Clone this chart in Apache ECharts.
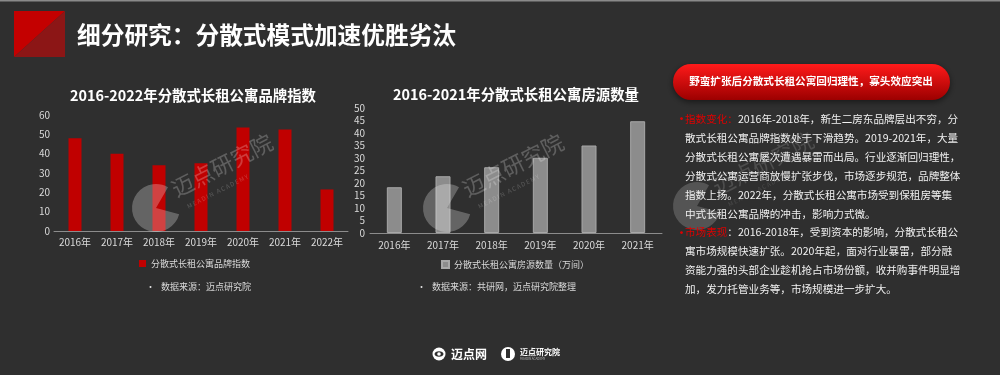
<!DOCTYPE html>
<html lang="zh-CN">
<head>
<meta charset="UTF-8">
<title>细分研究：分散式模式加速优胜劣汰</title>
<script src="https://cdn.jsdelivr.net/npm/echarts@6/dist/echarts.min.js"></script>
<style>
    body {margin: 0; background: #2f2f2f;}
    #main {width: 1000px; height: 375px;}
</style>
</head>
<body>
<div id="main"></div>
<script type="text/javascript">
    // data
    var years_a = ['2016年', '2017年', '2018年', '2019年', '2020年', '2021年', '2022年'];
    var brand_index = [48, 40, 34, 35, 53.5, 52.5, 21.5];
    var years_b = ['2016年', '2017年', '2018年', '2019年', '2020年', '2021年'];
    var room_count = [18.3, 22.7, 26.3, 30.1, 35, 44.7];

    var name_a = '分散式长租公寓品牌指数';
    var name_b = '分散式长租公寓房源数量（万间）';

    var text_lines = [
        ['指数变化：', '2016年-2018年，新生二房东品牌层出不穷，分'],
        ['', '散式长租公寓品牌指数处于下滑趋势。2019-2021年，大量'],
        ['', '分散式长租公寓屡次遭遇暴雷而出局。行业逐渐回归理性，'],
        ['', '分散式公寓运营商放慢扩张步伐，市场逐步规范，品牌整体'],
        ['', '指数上扬。2022年，分散式长租公寓市场受到保租房等集'],
        ['', '中式长租公寓品牌的冲击，影响力式微。'],
        ['市场表现', '：2016-2018年，受到资本的影响，分散式长租公'],
        ['', '寓市场规模快速扩张。2020年起，面对行业暴雷，部分融'],
        ['', '资能力强的头部企业趁机抢占市场份额，收并购事件明显增'],
        ['', '加，发力托管业务等，市场规模进一步扩大。']
    ];

    var font = '"Noto Sans CJK SC", "Microsoft YaHei", sans-serif';
    var red = '#c00000';
    var grey_bar = '#8c8c8c';
    var label_color = '#d9d9d9';

    // faint "迈点研究院" watermark
    function watermark(cx, cy, alpha) {
        return [
            {
                type: 'sector', z: 100, silent: true,
                shape: {cx: cx, cy: cy, r: 24, r0: 0, startAngle: Math.PI / 12, endAngle: Math.PI * 5 / 3, clockwise: true},
                style: {fill: 'rgba(255,255,255,' + alpha + ')'}
            },
            {
                type: 'text', z: 100, silent: true, x: cx + 22, y: cy - 8, rotation: 0.47,
                style: {text: '迈点研究院', fill: 'rgba(255,255,255,' + (alpha - 0.03) + ')', font: '22px ' + font, verticalAlign: 'bottom'}
            },
            {
                type: 'text', z: 100, silent: true, x: cx + 30, y: cy - 4, rotation: 0.47,
                style: {text: 'M E A D I N   A C A D E M Y', fill: 'rgba(255,255,255,' + (alpha - 0.06) + ')', font: '6px ' + font}
            }
        ];
    }

    var graphics = [
        // top border line
        {type: 'rect', shape: {x: 0, y: 0, width: 1000, height: 1.5}, style: {fill: '#8a8a8a'}},
        // red square of the title
        {type: 'polygon', shape: {points: [[14, 11], [65, 11], [14, 57]]}, style: {fill: '#c40000'}},
        {type: 'polygon', shape: {points: [[65, 11], [65, 57], [14, 57]]}, style: {fill: '#8c1616'}},
        {type: 'text', x: 77, y: 35, style: {text: '细分研究：分散式模式加速优胜劣汰', fill: '#ffffff', font: 'bold 23.7px ' + font, verticalAlign: 'middle'}},
        // chart titles
        {type: 'text', x: 193, y: 96, style: {text: '2016-2022年分散式长租公寓品牌指数', fill: '#ffffff', font: 'bold 14.4px ' + font, align: 'center', verticalAlign: 'middle'}},
        {type: 'text', x: 516, y: 95, style: {text: '2016-2021年分散式长租公寓房源数量', fill: '#ffffff', font: 'bold 14.4px ' + font, align: 'center', verticalAlign: 'middle'}},
        // sources
        {type: 'text', x: 146, y: 287, style: {text: '•   数据来源：迈点研究院', fill: label_color, font: '9px ' + font, verticalAlign: 'middle'}},
        {type: 'text', x: 417, y: 287, style: {text: '•   数据来源：共研网，迈点研究院整理', fill: label_color, font: '9px ' + font, verticalAlign: 'middle'}},
        // red pill
        {
            type: 'rect', shape: {x: 673, y: 64, width: 277, height: 36, r: 18},
            style: {
                fill: {type: 'linear', x: 0, y: 0, x2: 0, y2: 1, colorStops: [{offset: 0, color: '#ff1a1a'}, {offset: 1, color: '#9c0000'}]},
                shadowBlur: 6, shadowColor: 'rgba(0,0,0,0.5)', shadowOffsetY: 2
            }
        },
        {type: 'text', x: 811, y: 81, style: {text: '野蛮扩张后分散式长租公寓回归理性，寡头效应突出', fill: '#ffffff', font: 'bold 10.6px ' + font, align: 'center', verticalAlign: 'middle'}}
    ];

    graphics = graphics.concat(watermark(156, 208, 0.26), watermark(447, 208, 0.26), watermark(697, 206, 0.18));

    text_lines.forEach(function (ln, i) {
        var y = 119 + i * 18.9;
        if (ln[0]) {
            graphics.push({type: 'text', x: 676, y: y, z: 110, style: {text: '·', fill: '#e00000', font: 'bold 11px ' + font, verticalAlign: 'middle'}});
        }
        graphics.push({
            type: 'text', x: 685, y: y, z: 110,
            style: {
                text: (ln[0] ? '{r|' + ln[0] + '}' : '') + ln[1],
                fill: '#f0f0f0', font: '10.6px ' + font, verticalAlign: 'middle',
                rich: {r: {fill: '#e00000', font: '10.6px ' + font}}
            }
        });
    });

    // bottom logos
    graphics.push(
        {type: 'circle', shape: {cx: 439, cy: 354, r: 6.5}, style: {fill: '#ffffff'}},
        {type: 'ellipse', shape: {cx: 439, cy: 354, rx: 4.5, ry: 2.8}, style: {fill: '#2f2f2f'}},
        {type: 'circle', shape: {cx: 439, cy: 354, r: 1.8}, style: {fill: '#ffffff'}},
        {type: 'text', x: 451, y: 354, style: {text: '迈点网', fill: '#ffffff', font: 'bold 12px ' + font, verticalAlign: 'middle'}},
        {type: 'circle', shape: {cx: 508, cy: 354, r: 7}, style: {fill: '#ffffff'}},
        {type: 'rect', shape: {x: 506, y: 349, width: 4, height: 9}, style: {fill: '#2f2f2f'}},
        {type: 'text', x: 520, y: 352, style: {text: '迈点研究院', fill: '#ffffff', font: 'bold 8px ' + font, verticalAlign: 'middle'}},
        {type: 'text', x: 520, y: 359, style: {text: 'MEADIN ACADEMY', fill: '#bbbbbb', font: '3px ' + font, verticalAlign: 'middle'}}
    );

    var axis_label = {color: label_color, fontSize: 10, fontFamily: font};

    var option = {
        backgroundColor: '#2f2f2f',
        animation: false,
        textStyle: {fontFamily: font},
        grid: [
            {left: 54, top: 115, width: 294, height: 116},
            {left: 370, top: 108, width: 292, height: 125}
        ],
        xAxis: [
            {
                gridIndex: 0, type: 'category', data: years_a,
                axisLine: {lineStyle: {color: '#8c8c8c'}}, axisTick: {show: false},
                axisLabel: Object.assign({margin: 6}, axis_label)
            },
            {
                gridIndex: 1, type: 'category', data: years_b,
                axisLine: {lineStyle: {color: '#8c8c8c'}}, axisTick: {show: false},
                axisLabel: Object.assign({margin: 7}, axis_label)
            }
        ],
        yAxis: [
            {
                gridIndex: 0, type: 'value', min: 0, max: 60, interval: 10,
                axisLine: {show: false}, axisTick: {show: false}, splitLine: {show: false},
                axisLabel: Object.assign({margin: 4}, axis_label)
            },
            {
                gridIndex: 1, type: 'value', min: 0, max: 50, interval: 5,
                axisLine: {show: false}, axisTick: {show: false}, splitLine: {show: false},
                axisLabel: Object.assign({margin: 5}, axis_label)
            }
        ],
        legend: [
            {
                data: [name_a], left: 134, top: 254, icon: 'rect', itemWidth: 7, itemHeight: 7, itemGap: 4,
                textStyle: {color: label_color, fontSize: 9, fontFamily: font}
            },
            {
                data: [name_b], left: 436, top: 255, icon: 'rect', itemWidth: 7, itemHeight: 7, itemGap: 4,
                textStyle: {color: label_color, fontSize: 9, fontFamily: font}
            }
        ],
        series: [
            {
                name: name_a, type: 'bar', xAxisIndex: 0, yAxisIndex: 0, barWidth: 13,
                itemStyle: {color: red}, data: brand_index
            },
            {
                name: name_b, type: 'bar', xAxisIndex: 1, yAxisIndex: 1, barWidth: 15,
                itemStyle: {color: grey_bar, borderColor: '#a8a8a8', borderWidth: 1}, data: room_count
            }
        ],
        graphic: graphics
    };

    var myChart = echarts.init(document.getElementById('main'));
    myChart.setOption(option);
</script>
</body>
</html>
